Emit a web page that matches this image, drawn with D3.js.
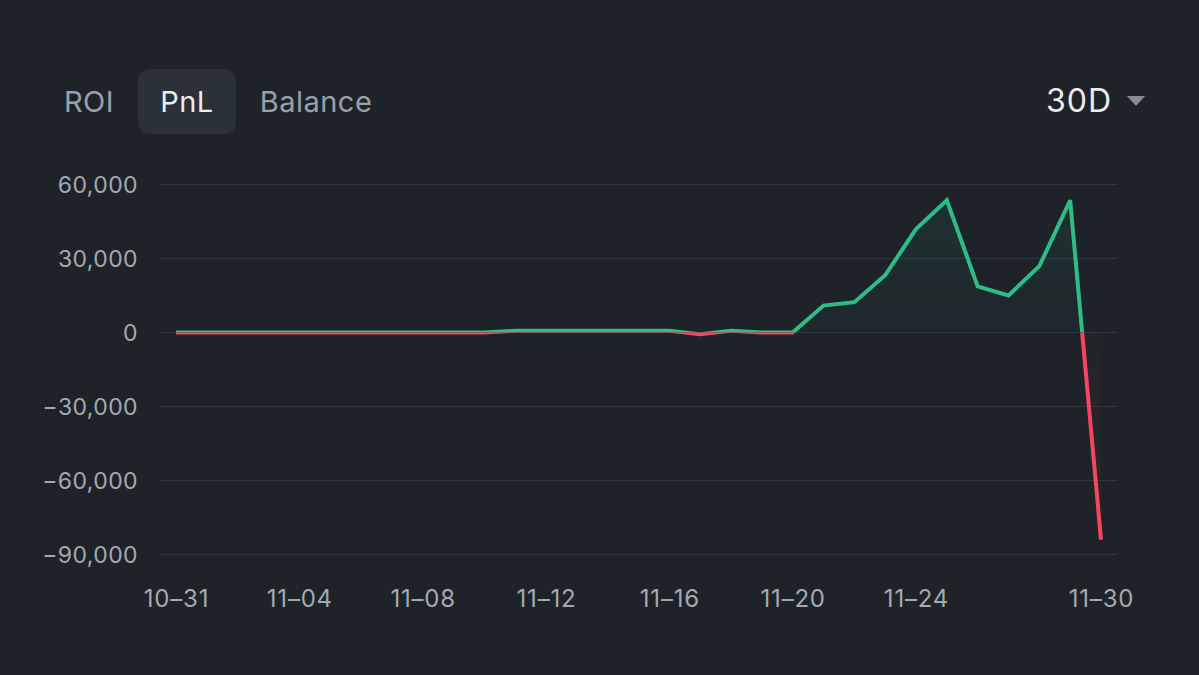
<!DOCTYPE html>
<html>
<head>
<meta charset="utf-8">
<script src="https://cdn.jsdelivr.net/npm/d3@7"></script>
<style>
  html, body { margin: 0; padding: 0; background: #1e2329; }
  svg { display: block; }
</style>
</head>
<body>
<svg id="chart" width="1199" height="675"></svg>
<script>
const dates = ["10-31","11-01","11-02","11-03","11-04","11-05","11-06","11-07","11-08","11-09",
  "11-10","11-11","11-12","11-13","11-14","11-15","11-16","11-17","11-18","11-19",
  "11-20","11-21","11-22","11-23","11-24","11-25","11-26","11-27","11-28","11-29","11-30"];
const pnl = [0,0,0,0,0,0,0,0,0,0,
  0,700,700,700,700,700,700,-700,700,0,
  0,10900,12300,23200,41900,53600,18700,15000,26900,53600,-84000];
const xTickLabels = ["10-31","11-04","11-08","11-12","11-16","11-20","11-24","11-30"];
const yTickValues = [60000, 30000, 0, -30000, -60000, -90000];
const tabs = ["ROI", "PnL", "Balance"];
const activeTab = "PnL";
const periodLabel = "30D";

const svg = d3.select("#chart");
const W = 1199, H = 675;
svg.append("rect").attr("width", W).attr("height", H).attr("fill", "#1e2329");

const FONT = "Inter, 'Open Sans', sans-serif";

// Header tabs
const tabX = { "ROI": 89, "PnL": 187, "Balance": 316 };
svg.append("rect")
  .attr("x", 138).attr("y", 69).attr("width", 98).attr("height", 65)
  .attr("rx", 12).attr("fill", "#2b3139");
tabs.forEach(t => {
  svg.append("text")
    .attr("x", tabX[t]).attr("y", 112)
    .attr("text-anchor", "middle")
    .attr("font-family", FONT).attr("font-size", 29)
    .attr("font-weight", 400)
    .attr("letter-spacing", 0.5)
    .attr("fill", t === activeTab ? "#eaecef" : "#9aa1ab")
    .text(t);
});
svg.append("text")
  .attr("x", 1112).attr("y", 112)
  .attr("text-anchor", "end")
  .attr("font-family", FONT).attr("font-size", 32).attr("font-weight", 400)
  .attr("letter-spacing", 1)
  .attr("fill", "#eaecef")
  .text(periodLabel);
svg.append("path")
  .attr("d", "M1127,96 L1145,96 L1136,106 Z")
  .attr("fill", "#848e9c");

// Scales
const x = d3.scalePoint().domain(dates).range([176, 1101]);
const y = d3.scaleLinear().domain([-90000, 60000]).range([554.5, 184.5]);

// Grid
const gridX0 = 160, gridX1 = 1117;
svg.append("g").selectAll("line").data(yTickValues).join("line")
  .attr("x1", gridX0).attr("x2", gridX1)
  .attr("y1", d => y(d)).attr("y2", d => y(d))
  .attr("stroke", "#2f353e").attr("stroke-width", 1.2);

// Y axis labels
const yAxis = d3.axisLeft(y).tickValues(yTickValues).tickSize(0).tickPadding(0)
  .tickFormat(d => d < 0 ? "\u2212" + d3.format(",")(-d) : d3.format(",")(d));
const yg = svg.append("g").attr("transform", "translate(138,0)").call(yAxis);
yg.select(".domain").remove();
yg.selectAll("text")
  .attr("font-family", FONT).attr("font-size", 23)
  .attr("letter-spacing", 0.4)
  .attr("fill", "#a3a9b2").attr("dy", "0.36em");

// X axis labels
const xAxis = d3.axisBottom(x).tickValues(xTickLabels).tickSize(0).tickPadding(0)
  .tickFormat(d => d.replace("-", "\u2013"));
const xg = svg.append("g").attr("transform", "translate(0,607)").call(xAxis);
xg.select(".domain").remove();
xg.selectAll("text")
  .attr("font-family", FONT).attr("font-size", 24)
  .attr("letter-spacing", 0.8)
  .attr("fill", "#a3a9b2").attr("dy", 0).attr("y", 0);

// Clip paths
const y0 = y(0);
const defs = svg.append("defs");
defs.append("clipPath").attr("id", "clipUp")
  .append("rect").attr("x", 0).attr("y", 0).attr("width", W).attr("height", y0);
defs.append("clipPath").attr("id", "clipDown")
  .append("rect").attr("x", 0).attr("y", y0).attr("width", W).attr("height", H - y0);

const gUp = defs.append("linearGradient").attr("id", "gradUp")
  .attr("gradientUnits", "userSpaceOnUse")
  .attr("x1", 0).attr("x2", 0).attr("y1", y(60000)).attr("y2", y0);
gUp.append("stop").attr("offset", 0).attr("stop-color", "#2ebd85").attr("stop-opacity", 0.10);
gUp.append("stop").attr("offset", 1).attr("stop-color", "#2ebd85").attr("stop-opacity", 0.02);
const gDn = defs.append("linearGradient").attr("id", "gradDn")
  .attr("gradientUnits", "userSpaceOnUse")
  .attr("x1", 0).attr("x2", 0).attr("y1", y0).attr("y2", y(-90000));
gDn.append("stop").attr("offset", 0).attr("stop-color", "#f6465d").attr("stop-opacity", 0.02);
gDn.append("stop").attr("offset", 1).attr("stop-color", "#f6465d").attr("stop-opacity", 0.06);

const pts = dates.map((d, i) => ({ d, v: pnl[i] }));
const area = d3.area().x(p => x(p.d)).y0(y0).y1(p => y(p.v));
const line = d3.line().x(p => x(p.d)).y(p => y(p.v));

svg.append("path").datum(pts).attr("d", area)
  .attr("fill", "url(#gradUp)").attr("clip-path", "url(#clipUp)");
svg.append("path").datum(pts).attr("d", area)
  .attr("fill", "url(#gradDn)").attr("clip-path", "url(#clipDown)");

svg.append("path").datum(pts).attr("d", line)
  .attr("fill", "none").attr("stroke", "#2ebd85").attr("stroke-width", 4)
  .attr("stroke-linejoin", "miter").attr("stroke-miterlimit", 2)
  .attr("clip-path", "url(#clipUp)");
svg.append("path").datum(pts).attr("d", line)
  .attr("fill", "none").attr("stroke", "#f6465d").attr("stroke-width", 4)
  .attr("stroke-linejoin", "miter").attr("stroke-miterlimit", 2)
  .attr("clip-path", "url(#clipDown)");
</script>
</body>
</html>
